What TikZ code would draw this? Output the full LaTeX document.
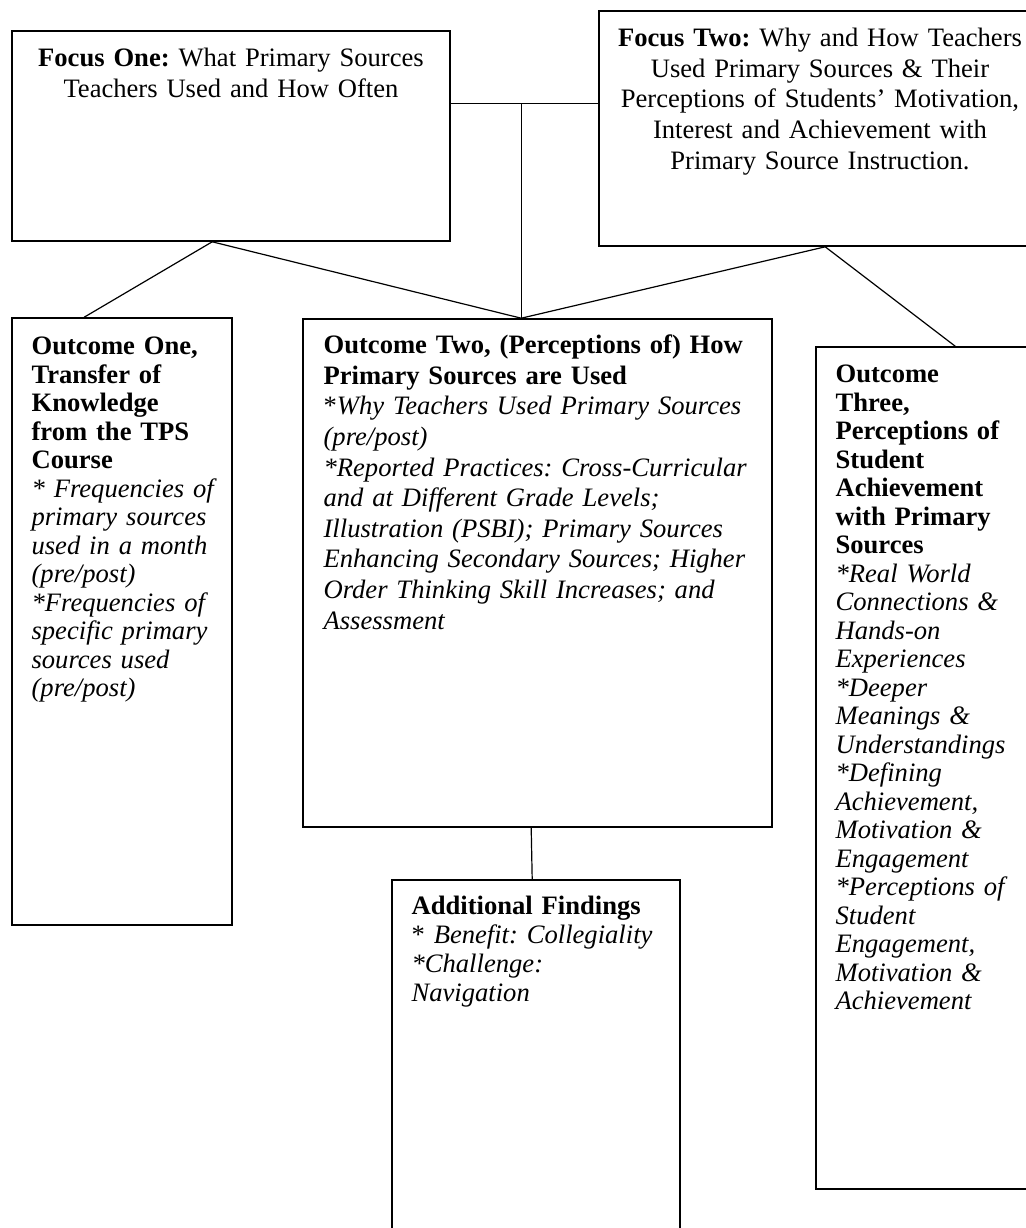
\documentclass[tikz,border=0pt]{standalone}
\usepackage{fontspec}
\setmainfont{Liberation Serif}
\frenchspacing
\usetikzlibrary{calc,fit}
\tikzset{
	% Frames, text blocks and connecting lines
	box node/.style={draw,line width=0.8pt,inner sep=0pt},
	box text/.style={anchor=north west,inner sep=0pt,align=left,text width=225pt,font=\fontsize{13.3}{#1}\selectfont},
	box text/.default=15.3,
	link/.style={line width=0.6pt}
}
\newcommand{\firstline}{\rule{0pt}{10pt}}

\begin{document}
\begin{tikzpicture}[x=0.5pt,y=-0.5pt]
	\useasboundingbox (0,0) rectangle (1026,1228);
	% Frames
	\node(f1)[box node,fit={(12,31) (450,241)}]{};
	\node(f2)[box node,fit={(599,11) (1041,246)}]{};
	\node(o1)[box node,fit={(12,318) (232,925)}]{};
	\node(o2)[box node,fit={(303,319) (772,827)}]{};
	\node(o3)[box node,fit={(816,347) (1041,1189)}]{};
	\node(af)[box node,fit={(392,880) (680,1240)}]{};
	
	% Texts
	\node(f1-t)[box text,anchor=north,align=center,text width=215pt] at ($(f1.north)+(0,16)$)
		{\firstline\textbf{Focus One:} What Primary Sources\\Teachers Used and How Often};
	\node(f2-t)[box text,anchor=north,align=center,text width=215pt] at ($(f2.north)+(0,16)$)
		{\firstline\textbf{Focus Two:} Why and How Teachers\\Used Primary Sources \& Their\\
		Perceptions of Students' Motivation,\\Interest and Achievement with\\Primary Source Instruction.};
	\node(o1-t)[box text=14.25] at ($(o1.north west)+(20,17)$)
		{\firstline\textbf{Outcome One,\\Transfer of\\Knowledge\\from the TPS\\Course}\\
		\itshape * Frequencies of\\primary sources\\used in a month\\(pre/post)\\
		{}*Frequencies of\\specific primary\\sources used\\(pre/post)};
	\node(o2-t)[box text] at ($(o2.north west)+(21,15)$)
		{\firstline\textbf{Outcome Two, (Perceptions of) How\\Primary Sources are Used}\\
		{}*\textit{Why Teachers Used Primary Sources}\\\textit{(pre/post)}\\
		\itshape *Reported Practices: Cross-Curricular\\and at Different Grade Levels;\\
		Illustration (PSBI); Primary Sources\\Enhancing Secondary Sources; Higher\\
		Order Thinking Skill Increases; and\\Assessment};
	\node(o3-t)[box text=14.25] at ($(o3.north west)+(20,16)$)
		{\firstline\textbf{Outcome\\Three,\\Perceptions of\\Student\\Achievement\\with Primary\\Sources}\\
		\itshape *Real World\\Connections \&\\Hands-on\\Experiences\\{}*Deeper\\Meanings \&\\
		Understandings\\{}*Defining\\Achievement,\\Motivation \&\\Engagement\\
		{}*Perceptions of\\Student\\Engagement,\\Motivation \&\\Achievement};
	\node(af-t)[box text=14.5] at ($(af.north west)+(20,15)$)
		{\firstline\textbf{Additional Findings}\\{}* \textit{Benefit: Collegiality}\\
		\itshape *Challenge:\\Navigation};
	
	% Connecting lines
	\coordinate(h) at ($(f1.north east)+(0,73)$);
	\coordinate(m) at ($(o2.north west)+(219,0)$);
	\coordinate(f1b) at ($(f1.south west)+(201,0)$);
	\coordinate(f2b) at ($(f2.south west)+(227,0)$);
	\draw[link] (h) -- (h -| f2.west);
	\draw[link] (m |- h) -- (m);
	\draw[link] (f1b) -- ($(o1.north west)+(73,0)$);
	\draw[link] (f1b) -- (m);
	\draw[link] (f2b) -- (m);
	\draw[link] (f2b) -- ($(o3.north west)+(140,0)$);
	\draw[link] ($(o2.south west)+(229,0)$) -- ($(af.north west)+(141,0)$);
\end{tikzpicture}
\end{document}
